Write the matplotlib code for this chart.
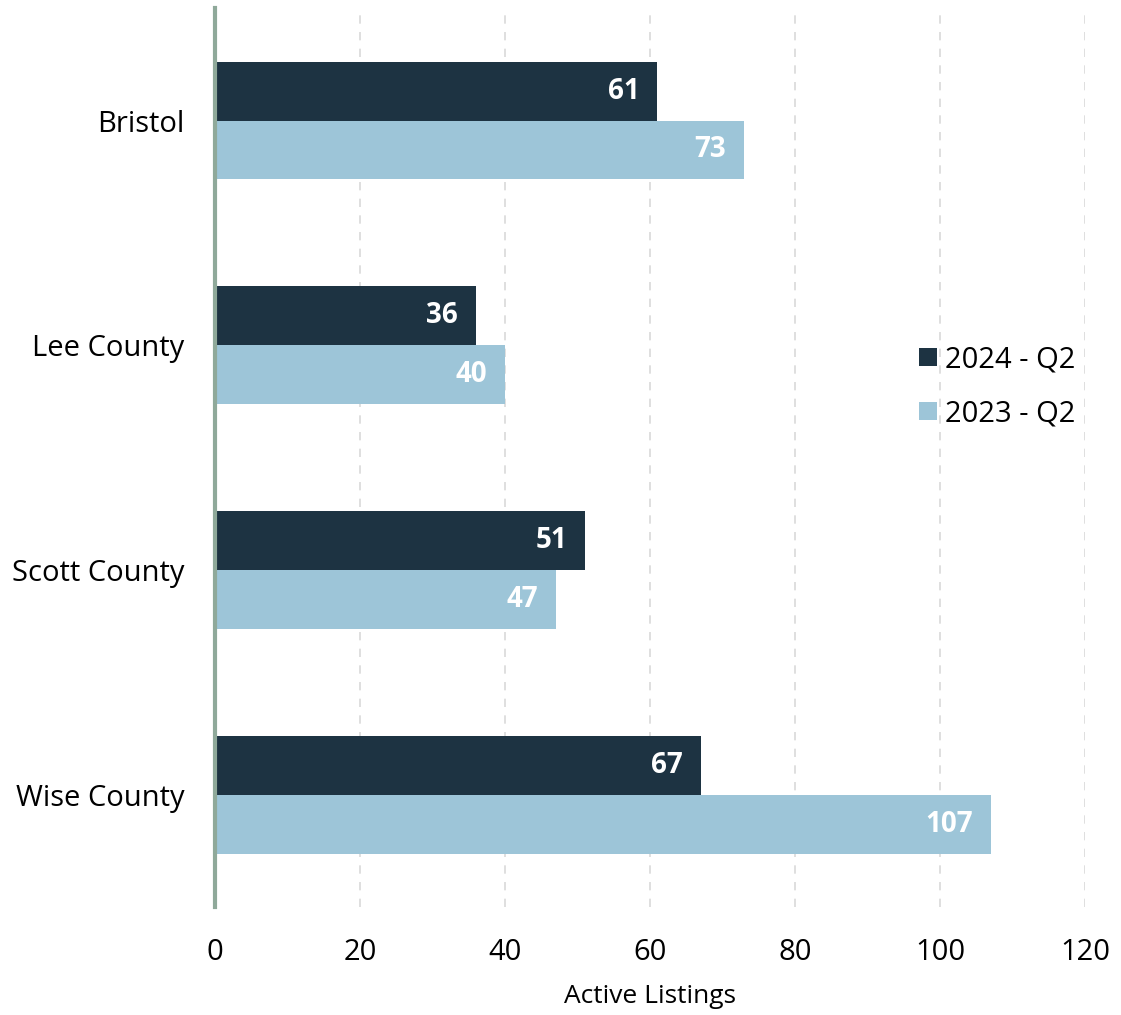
import matplotlib
matplotlib.use("Agg")
import matplotlib.pyplot as plt
import numpy as np

plt.rcParams['font.family'] = ['Open Sans', 'DejaVu Sans']

regions = ['Bristol', 'Lee County', 'Scott County', 'Wise County']
listings_2024 = [61, 36, 51, 67]
listings_2023 = [73, 40, 47, 107]
series_names = ['2024 - Q2', '2023 - Q2']

dark = '#1d3342'
light = '#9dc5d8'

fig = plt.figure(figsize=(11.21, 10.15), dpi=100)
ax = fig.add_axes([0.192, 0.106, 0.776, 0.886])

y = np.arange(len(regions))
h = 0.262
b1 = ax.barh(y - h / 2, listings_2024, height=h, color=dark, label=series_names[0], zorder=3)
b2 = ax.barh(y + h / 2, listings_2023, height=h, color=light, label=series_names[1], zorder=3)

# value labels sit inside the end of each bar
for bars in (b1, b2):
    for bar in bars:
        w = bar.get_width()
        ax.annotate(str(int(w)), (w, bar.get_y() + bar.get_height() / 2),
                    xytext=(-13, 0), textcoords='offset points',
                    ha='right', va='center', color='white',
                    fontsize=20, fontweight='bold', zorder=4)

ax.set_xlim(0, 120)
ax.set_ylim(3.5, -0.5)
ax.set_xticks(range(0, 121, 20))
ax.set_yticks(y)
ax.set_yticklabels(regions)
ax.tick_params(axis='both', length=0, labelsize=21)
ax.tick_params(axis='x', pad=22)
ax.tick_params(axis='y', pad=22)

ax.grid(axis='x', color='#d9d9d9', linestyle=(0, (5, 5)), linewidth=1.2, zorder=0)
for side in ('top', 'right', 'bottom'):
    ax.spines[side].set_visible(False)
ax.spines['left'].set_color('#8fa99a')
ax.spines['left'].set_linewidth(3)
ax.spines['left'].set_zorder(5)

ax.set_xlabel('Active Listings', fontsize=19, labelpad=12)

leg = ax.legend(loc='center left', bbox_to_anchor=(0.779, 0.579), frameon=False,
                fontsize=21, handlelength=0.6, handleheight=0.6,
                handletextpad=0.3, labelspacing=0.85)

fig.savefig('out.png', dpi=100)
